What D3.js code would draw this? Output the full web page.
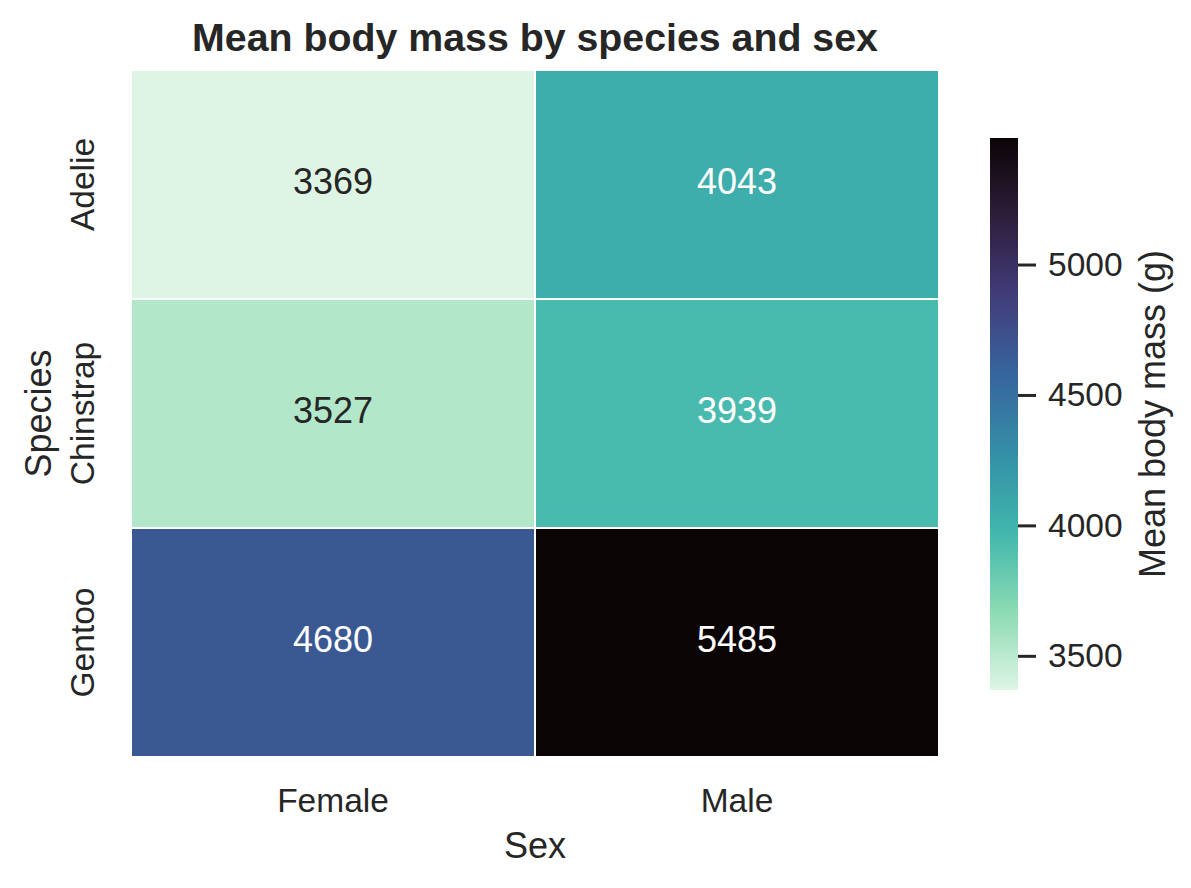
<!DOCTYPE html>
<html>
<head>
<meta charset="utf-8">
<script src="https://cdn.jsdelivr.net/npm/d3@7"></script>
<style>
  body { margin: 0; background: #fff; }
  svg { font-family: "Liberation Sans", Arial, sans-serif; }
</style>
</head>
<body>
<svg id="chart" width="1191" height="888"></svg>
<script>
// datos del grafico
const species = ["Adelie", "Chinstrap", "Gentoo"];
const sexes = ["Female", "Male"];
const femaleMass = [3369, 3527, 4680];
const maleMass = [4043, 3939, 5485];
const colorbarTicks = [3500, 4000, 4500, 5000];

// colores del mapa "mako" (de oscuro a claro)
const makoStops = ["#0b0405", "#2e1e3b", "#413d7b", "#37659e", "#348fa7", "#40b7ad", "#8bdab2", "#def5e5"];

const svg = d3.select("#chart");
const ink = "#262626";

// tabla de celdas
const celdas = [];
species.forEach((sp, i) => {
  celdas.push({ species: sp, sex: sexes[0], value: femaleMass[i] });
  celdas.push({ species: sp, sex: sexes[1], value: maleMass[i] });
});

const hmLeft = 131, hmRight = 939, hmTop = 70, hmBottom = 757;

const x = d3.scaleBand().domain(sexes).range([hmLeft, hmRight]);
const y = d3.scaleBand().domain(species).range([hmTop, hmBottom]);

const extent = d3.extent(celdas, d => d.value);
const mako = d3.piecewise(d3.interpolateRgb, makoStops);
// mako_r: valores bajos claros, altos oscuros
const color = d3.scaleSequential(t => mako(1 - t)).domain(extent);

// luminancia para elegir color del texto
function luminancia(c) {
  const rgb = d3.rgb(c);
  const lin = [rgb.r, rgb.g, rgb.b].map(v => {
    v = v / 255;
    return v <= 0.03928 ? v / 12.92 : Math.pow((v + 0.055) / 1.055, 2.4);
  });
  return 0.2126 * lin[0] + 0.7152 * lin[1] + 0.0722 * lin[2];
}

// celdas
svg.append("g").selectAll("rect")
  .data(celdas)
  .join("rect")
  .attr("x", d => x(d.sex))
  .attr("y", d => y(d.species))
  .attr("width", x.bandwidth())
  .attr("height", y.bandwidth())
  .attr("fill", d => color(d.value))
  .attr("stroke", "#fff")
  .attr("stroke-width", 2);

// anotaciones
svg.append("g").selectAll("text")
  .data(celdas)
  .join("text")
  .attr("x", d => x(d.sex) + x.bandwidth() / 2)
  .attr("y", d => y(d.species) + y.bandwidth() / 2 + 9)
  .attr("text-anchor", "middle")
  .attr("font-size", 36)
  .attr("fill", d => luminancia(color(d.value)) > 0.408 ? ink : "#fff")
  .text(d => d3.format(".0f")(d.value));

// eje X
const ejeX = svg.append("g")
  .attr("transform", "translate(0," + hmBottom + ")")
  .call(d3.axisBottom(x).tickSize(0));
ejeX.select(".domain").remove();
ejeX.selectAll("text")
  .attr("y", 55)
  .attr("dy", 0)
  .attr("font-size", 33.5)
  .attr("font-family", "Liberation Sans, Arial, sans-serif")
  .attr("fill", ink);

// eje Y (etiquetas verticales)
const ejeY = svg.append("g")
  .attr("transform", "translate(" + hmLeft + ",0)")
  .call(d3.axisLeft(y).tickSize(0));
ejeY.select(".domain").remove();
ejeY.selectAll("text")
  .attr("transform", "rotate(-90)")
  .attr("x", 0)
  .attr("y", -37)
  .attr("dy", 0)
  .attr("text-anchor", "middle")
  .attr("font-size", 33.5)
  .attr("font-family", "Liberation Sans, Arial, sans-serif")
  .attr("fill", ink);

// titulos de ejes
svg.append("text")
  .attr("x", (hmLeft + hmRight) / 2)
  .attr("y", 858)
  .attr("text-anchor", "middle")
  .attr("font-size", 36)
  .attr("fill", ink)
  .text("Sex");

svg.append("text")
  .attr("transform", "translate(51," + (hmTop + hmBottom) / 2 + ") rotate(-90)")
  .attr("text-anchor", "middle")
  .attr("font-size", 36)
  .attr("fill", ink)
  .text("Species");

// titulo
svg.append("text")
  .attr("x", (hmLeft + hmRight) / 2)
  .attr("y", 51)
  .attr("text-anchor", "middle")
  .attr("font-size", 39.3)
  .attr("font-weight", "bold")
  .attr("fill", ink)
  .text("Mean body mass by species and sex");

// barra de color
const cbLeft = 990, cbRight = 1018, cbTop = 138, cbBottom = 690;
const cbScale = d3.scaleLinear().domain(extent).range([cbBottom, cbTop]);

const grad = svg.append("defs").append("linearGradient")
  .attr("id", "cb-grad")
  .attr("x1", 0).attr("y1", 1).attr("x2", 0).attr("y2", 0);
d3.range(0, 1.0001, 0.02).forEach(t => {
  grad.append("stop")
    .attr("offset", t)
    .attr("stop-color", color(extent[0] + t * (extent[1] - extent[0])));
});

svg.append("rect")
  .attr("x", cbLeft)
  .attr("y", cbTop)
  .attr("width", cbRight - cbLeft)
  .attr("height", cbBottom - cbTop)
  .attr("fill", "url(#cb-grad)");

const ejeCb = svg.append("g")
  .attr("transform", "translate(" + cbRight + ",0)")
  .call(d3.axisRight(cbScale).tickValues(colorbarTicks).tickFormat(d3.format("d")).tickSize(18).tickPadding(12));
ejeCb.select(".domain").remove();
ejeCb.selectAll("line").attr("stroke", ink).attr("stroke-width", 3);
ejeCb.selectAll("text")
  .attr("font-size", 33.5)
  .attr("font-family", "Liberation Sans, Arial, sans-serif")
  .attr("fill", ink);

svg.append("text")
  .attr("transform", "translate(1165," + (cbTop + cbBottom) / 2 + ") rotate(-90)")
  .attr("text-anchor", "middle")
  .attr("font-size", 36)
  .attr("fill", ink)
  .text("Mean body mass (g)");
</script>
</body>
</html>
